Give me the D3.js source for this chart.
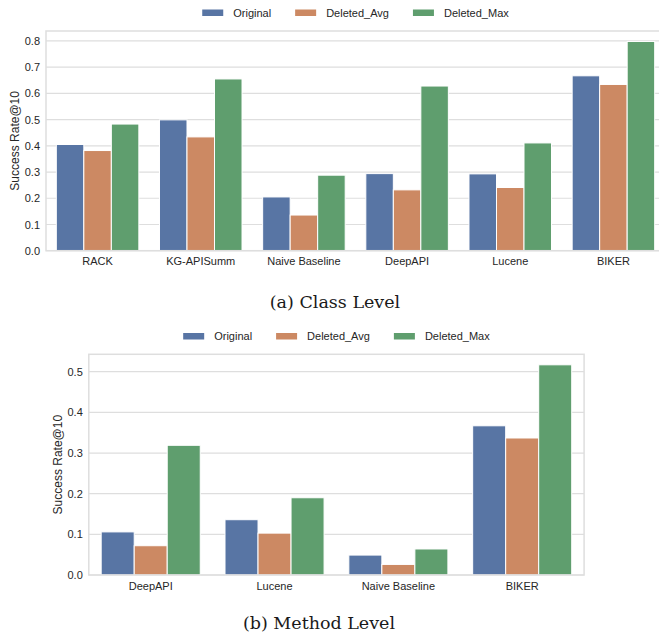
<!DOCTYPE html>
<html>
<head>
<meta charset="utf-8">
<script src="https://cdn.jsdelivr.net/npm/d3@7"></script>
<style>
  html, body { margin: 0; padding: 0; background: #fff; }
  svg { display: block; }
</style>
</head>
<body>
<svg id="fig" width="659" height="637"></svg>
<script>
// Series and colours
const seriesNames = ["Original", "Deleted_Avg", "Deleted_Max"];
const seriesColors = ["#5875a4", "#cc8963", "#5f9e6e"];

// (a) Class level
const classCategories = ["RACK", "KG-APISumm", "Naive Baseline", "DeepAPI", "Lucene", "BIKER"];
const classOriginal   = [0.405, 0.499, 0.205, 0.294, 0.293, 0.667];
const classDeletedAvg = [0.382, 0.434, 0.136, 0.232, 0.241, 0.634];
const classDeletedMax = [0.483, 0.655, 0.288, 0.628, 0.411, 0.798];
const classTicks = [0.0, 0.1, 0.2, 0.3, 0.4, 0.5, 0.6, 0.7, 0.8];

// (b) Method level
const methodCategories = ["DeepAPI", "Lucene", "Naive Baseline", "BIKER"];
const methodOriginal   = [0.106, 0.136, 0.049, 0.367];
const methodDeletedAvg = [0.072, 0.103, 0.026, 0.337];
const methodDeletedMax = [0.319, 0.190, 0.064, 0.517];
const methodTicks = [0.0, 0.1, 0.2, 0.3, 0.4, 0.5];

const svg = d3.select("#fig");
const FONT = "'Liberation Sans', Arial, sans-serif";
const TEXT = "#262626";
const GRID = "#dedede";

function drawPanel(cfg) {
  const { categories, values, ticks, left, right, top, bottom, legendY, ylabelX, caption, captionX, captionY } = cfg;
  const g = svg.append("g");
  const yMax = d3.max(values.flat()) * 1.05;

  const x0 = d3.scaleBand().domain(categories).range([left, right]).paddingInner(0).paddingOuter(0);
  const x1 = d3.scaleBand().domain(seriesNames).range([0, x0.bandwidth() * 0.8]);
  const y = d3.scaleLinear().domain([0, yMax]).range([bottom, top]);

  // grid lines
  g.append("g").selectAll("line").data(ticks).join("line")
    .attr("x1", left).attr("x2", right)
    .attr("y1", d => y(d)).attr("y2", d => y(d))
    .attr("stroke", GRID).attr("stroke-width", 1.2);

  // y axis (labels only)
  const yAxis = d3.axisLeft(y).tickValues(ticks).tickFormat(d3.format(".1f")).tickSize(0).tickPadding(6);
  const ya = g.append("g").attr("transform", `translate(${left},0)`).call(yAxis);
  ya.select(".domain").remove();
  ya.selectAll("text").attr("font-family", FONT).attr("font-size", 11).attr("fill", TEXT);

  // x axis (labels only)
  const xAxis = d3.axisBottom(x0).tickSize(0).tickPadding(7);
  const xa = g.append("g").attr("transform", `translate(0,${bottom})`).call(xAxis);
  xa.select(".domain").remove();
  xa.selectAll("text").attr("font-family", FONT).attr("font-size", 11).attr("fill", TEXT);

  // bars
  const groups = g.append("g").selectAll("g").data(categories).join("g")
    .attr("transform", c => `translate(${x0(c) + x0.bandwidth() * 0.1},0)`);
  groups.selectAll("rect")
    .data((c, i) => seriesNames.map((s, k) => ({ s, k, v: values[k][i] })))
    .join("rect")
    .attr("x", d => x1(d.s))
    .attr("width", x1.bandwidth())
    .attr("y", d => y(d.v))
    .attr("height", d => y(0) - y(d.v))
    .attr("fill", d => seriesColors[d.k])
    .attr("stroke", "#ffffff").attr("stroke-width", 1);

  // frame
  g.append("rect").attr("x", left).attr("y", top)
    .attr("width", right - left).attr("height", bottom - top)
    .attr("fill", "none").attr("stroke", GRID).attr("stroke-width", 1.5);

  // y label
  g.append("text")
    .attr("transform", `translate(${ylabelX},${(top + bottom) / 2}) rotate(-90)`)
    .attr("text-anchor", "middle").attr("dominant-baseline", "central")
    .attr("font-family", FONT).attr("font-size", 12).attr("fill", TEXT)
    .text("Success Rate@10");

  // legend, centred over the plot
  const leg = g.append("g");
  const items = leg.selectAll("g").data(seriesNames).join("g");
  items.append("rect").attr("y", -3).attr("width", 21).attr("height", 6.5)
    .attr("fill", (d, i) => seriesColors[i]);
  items.append("text").attr("x", 31).attr("dominant-baseline", "central")
    .attr("font-family", FONT).attr("font-size", 11).attr("fill", TEXT)
    .text(d => d);
  let off = 0;
  items.each(function () {
    const w = d3.select(this).select("text").node().getComputedTextLength();
    d3.select(this).attr("transform", `translate(${off},0)`);
    off += 31 + w + 24;
  });
  const total = off - 24;
  leg.attr("transform", `translate(${(left + right) / 2 - total / 2},${legendY})`);

  // caption
  svg.append("text").attr("x", captionX).attr("y", captionY)
    .attr("text-anchor", "middle")
    .attr("font-family", "'DejaVu Serif', 'Liberation Serif', serif").attr("font-size", 17.5).attr("fill", "#1a1a1a")
    .text(caption);
}

drawPanel({
  categories: classCategories,
  values: [classOriginal, classDeletedAvg, classDeletedMax],
  ticks: classTicks,
  left: 46, right: 665, top: 31, bottom: 250.7,
  legendY: 12.5, ylabelX: 15,
  caption: "(a)  Class Level", captionX: 335, captionY: 308
});

drawPanel({
  categories: methodCategories,
  values: [methodOriginal, methodDeletedAvg, methodDeletedMax],
  ticks: methodTicks,
  left: 88.8, right: 584.1, top: 354.3, bottom: 575,
  legendY: 336, ylabelX: 58,
  caption: "(b)  Method Level", captionX: 319, captionY: 629
});
</script>
</body>
</html>
